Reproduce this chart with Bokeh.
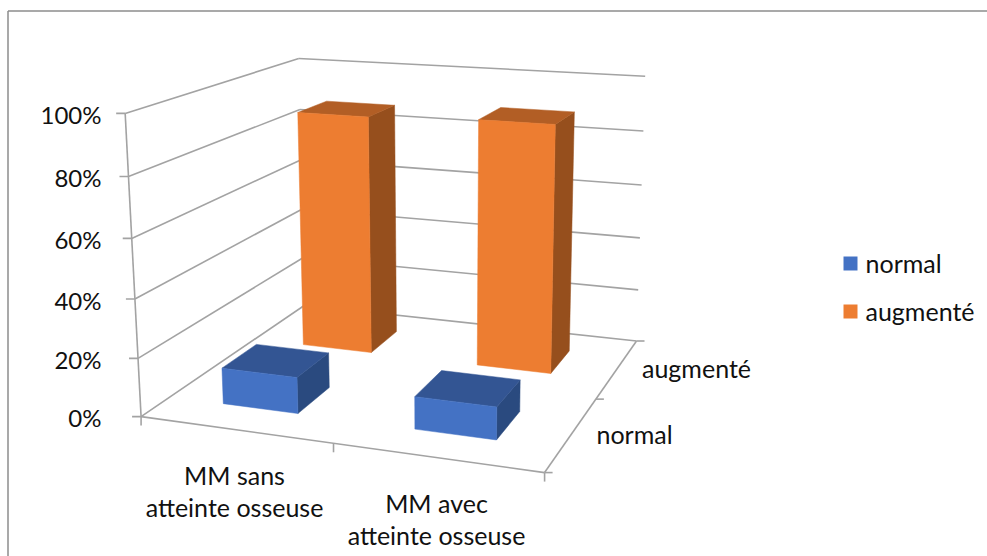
import numpy as np
from bokeh.core.properties import value
from bokeh.embed import file_html
from bokeh.models import ColumnDataSource
from bokeh.plotting import figure
from bokeh.resources import INLINE

# Chart data
categories = ["MM sans\natteinte osseuse", "MM avec\natteinte osseuse"]
series_names = ["normal", "augmenté"]
normal_values = [12.5, 11]
augmente_values = [87.5, 89]
axis_ticks = [0, 20, 40, 60, 80, 100]

# Series colours: front, top and side faces
BLUE = ("#4472C4", "#335593", "#2A4A7F")
ORANGE = ("#ED7D31", "#B25E25", "#964F1D")
GRID = "#A3A3A3"
FRAME = "#8C8C8C"
FONT = value("Lato")
TICK_SIZE = "24px"
TEXT_SIZE = "25px"

# Camera: (category axis, depth axis, height) to screen, fitted on the box corners
world = np.array([
    (0, 0, 0), (1, 0, 0), (1, 1, 0), (0, 1, 0),
    (0, 0, 1), (0, 1, 1), (1, 1, 1), (0, 0, 0.2), (0, 0, 0.8),
], float)
screen = np.array([
    (139, 416), (545, 471), (635, 342), (306, 304),
    (126, 113), (297, 58), (645, 75), (137, 358), (128, 177),
], float)
rows, rhs = [], []
for (a, b, c), (sx, sy) in zip(world, screen):
    rows.append([a, b, c, 1, 0, 0, 0, 0, -sx * a, -sx * b, -sx * c])
    rhs.append(sx)
    rows.append([0, 0, 0, 0, a, b, c, 1, -sy * a, -sy * b, -sy * c])
    rhs.append(sy)
camera = np.append(np.linalg.lstsq(np.array(rows), np.array(rhs), rcond=None)[0], 1).reshape(3, 4)


def project(u, v, w):
    x, y, h = camera @ np.array([u, v, w, 1.0])
    return x / h, y / h


p = figure(width=987, height=556, x_range=(0, 987), y_range=(556, 0),
           output_backend="svg", toolbar_location=None, min_border=0,
           outline_line_color=None, background_fill_color="white")
p.axis.visible = False
p.grid.visible = False


def segment(a, b, color=GRID, width=1.6):
    p.line([a[0], b[0]], [a[1], b[1]], line_color=color, line_width=width)


# Outer frame of the chart area
segment((7.5, 556), (7.5, 10.5), FRAME, 1.5)
segment((7.5, 10.5), (987, 10.5), FRAME, 1.5)

# Side and back walls with their gridlines
for t in axis_ticks:
    w = t / 100
    segment(project(0, 0, w), project(0, 1, w))
    segment(project(0, 1, w), project(1, 1, w))
    ax, ay = project(0, 0, w)
    segment((ax - 9, ay), (ax, ay))
    p.text([101], [ay + 1], text=[f"{t}%"], text_font=FONT, text_font_size=TICK_SIZE,
           text_align="right", text_baseline="middle", text_color="#111111")

# Axis lines and floor edges
segment(project(0, 0, 0), project(0, 0, 1))
segment(project(0, 0, 0), project(1, 0, 0))
segment(project(1, 0, 0), project(1, 1, 0))
for f in (0, 0.5, 1):
    x0, y0 = project(f, 0, 0)
    segment((x0, y0), (x0, y0 + 9))
    x1, y1 = project(1, f, 0)
    segment((x1, y1), (x1 + 8, y1))

# Boxes, painted from the back row to the front row
BAR_SIZE = 0.2
U_SHIFT = -0.004
rows_back_to_front = [(1, augmente_values, ORANGE), (0, normal_values, BLUE)]
for depth_index, values, (front, top, side) in rows_back_to_front:
    v0 = (depth_index + 0.5) / 2 - BAR_SIZE / 2
    v1 = v0 + BAR_SIZE
    for cat_index, val in enumerate(values):
        u0 = (cat_index + 0.5) / 2 - BAR_SIZE / 2 + U_SHIFT
        u1 = u0 + BAR_SIZE
        h = val / 100
        faces = [
            ([(u1, v0, 0), (u1, v1, 0), (u1, v1, h), (u1, v0, h)], side),
            ([(u0, v0, h), (u1, v0, h), (u1, v1, h), (u0, v1, h)], top),
            ([(u0, v0, 0), (u1, v0, 0), (u1, v0, h), (u0, v0, h)], front),
        ]
        for corners, colour in faces:
            pts = [project(*c) for c in corners]
            src = ColumnDataSource(dict(x=[[q[0] for q in pts]], y=[[q[1] for q in pts]]))
            p.patches("x", "y", source=src, fill_color=colour, line_color=colour, line_width=0.5)


def label(x, y, text, align="center"):
    p.text([x], [y], text=[text], text_font=FONT, text_font_size=TEXT_SIZE, text_align=align,
           text_baseline="middle", text_color="#111111")


# Category labels under the front floor edge
for (cx, cy), name in zip([(234, 474), (436, 502)], categories):
    first, second = name.split("\n")
    label(cx, cy, first)
    label(cx, cy + 32, second)

# Depth axis labels
label(696, 367, series_names[1])
label(634, 433, series_names[0])

# Legend
for ly, name, colours in [(263, series_names[0], BLUE), (311, series_names[1], ORANGE)]:
    p.rect([850], [ly], width=14, height=14, fill_color=colours[0], line_color=None)
    label(865, ly - 1, name, "left")

open("out.html", "w").write(file_html(p, INLINE))
